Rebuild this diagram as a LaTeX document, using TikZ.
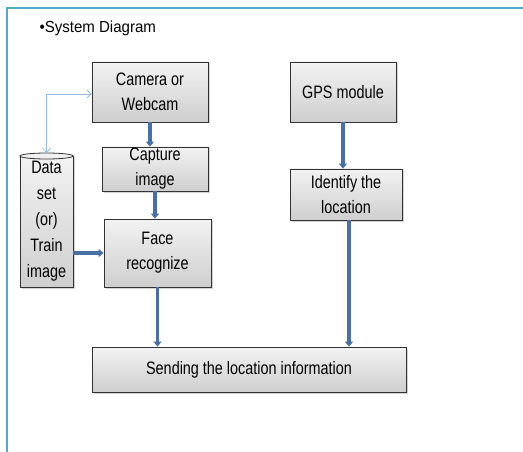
\documentclass[tikz,border=0pt]{standalone}
\usepackage{fontspec}
\setmainfont{Liberation Sans}[FakeStretch=0.8]
\newfontfamily\titlefont{Liberation Sans}[FakeStretch=0.94]
\usetikzlibrary{shadows,arrows.meta}
\definecolor{framec}{RGB}{75,172,198}
\definecolor{arrowc}{RGB}{72,112,166}
\definecolor{lightc}{RGB}{150,186,226}
\tikzset{
  stepbox/.style={draw=black!80, line width=0.8pt, top color=gray!10, bottom color=gray!38,
    drop shadow={shadow xshift=1.5pt, shadow yshift=-1.5pt, opacity=0.35},
    inner sep=0pt, align=center, font=\fontsize{18}{25}\selectfont},
  flow/.style={draw=arrowc, line width=3.6pt, -{Triangle[width=8pt,length=5pt]}},
  thinflow/.style={draw=lightc, line width=0.8pt, {Straight Barb[length=4pt,width=8pt]}-{Straight Barb[length=4pt,width=8pt]}},
}
\begin{document}
\begin{tikzpicture}[x=1pt,y=-1pt]
\useasboundingbox (0,0) rectangle (523,452);
\draw[framec, line width=1.8pt] (7,452) -- (7,8) -- (523,8);
\node[anchor=west, font=\titlefont\fontsize{16}{19}\selectfont] (title) at (36,28) {•System Diagram};

\node[stepbox, minimum width=116pt, minimum height=60pt] (cam) at (150,92) {Camera or\\Webcam};
\node[stepbox, minimum width=106pt, minimum height=60pt] (gps) at (343,92) {GPS module};
\node[stepbox, minimum width=106pt, minimum height=44pt] (cap) at (155,169) {Capture\\image};
\node[stepbox, minimum width=107pt, minimum height=68pt] (face) at (157.5,253) {Face\\recognize};
\node[stepbox, minimum width=112pt, minimum height=51pt] (ident) at (346,194.5) {Identify the\\location};
\node[stepbox, minimum width=314pt, minimum height=45pt] (send) at (249,369.5) {Sending the location information};
\node[stepbox, minimum width=53pt, minimum height=131pt, font=\fontsize{18}{26}\selectfont] (data) at (46.5,221.5) {Data\\set\\(or)\\Train\\image};
\draw[draw=black!80, line width=0.8pt, fill=gray!12] (46.5,156) ellipse [x radius=26.5pt, y radius=3pt];
\coordinate (dtop) at (46.5,153);

\draw[thinflow] (dtop) |- ([yshift=-2pt]cam.west);
\draw[flow] (cam.south) -- (cam.south |- cap.north);
\draw[flow] (cap.south) -- (cap.south |- face.north);
\draw[flow] (face.south) -- (face.south |- send.north);
\draw[flow] (gps.south) -- (gps.south |- ident.north);
\draw[flow] ([xshift=3pt]ident.south) -- ([xshift=3pt]ident.south |- send.north);
\draw[flow] (data.east |- face.west) -- (face.west);
\end{tikzpicture}
\end{document}
